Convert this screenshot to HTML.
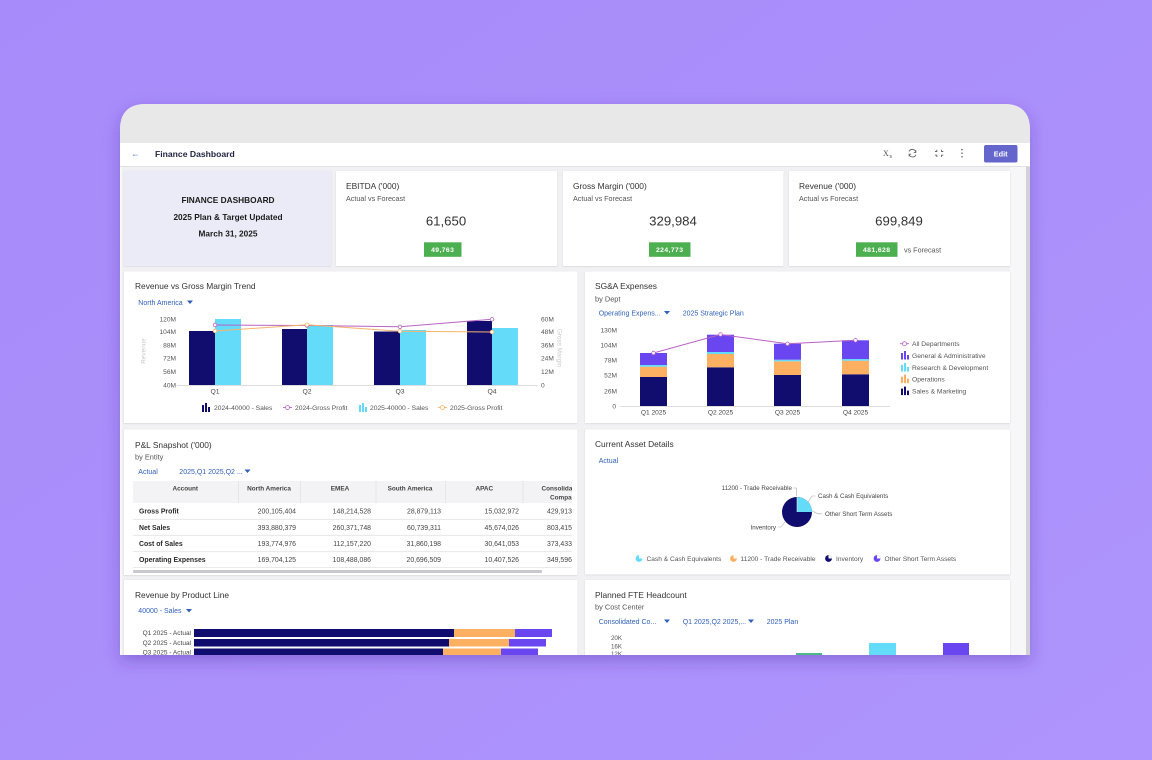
<!DOCTYPE html>
<html><head><meta charset="utf-8">
<style>
html,body{margin:0;padding:0;width:1152px;height:760px;overflow:hidden;background:#a98ffb;}
svg{display:block;font-family:"Liberation Sans",Arial,sans-serif;}
</style></head><body>
<svg width="1152" height="760" viewBox="0 0 1152 760" xmlns="http://www.w3.org/2000/svg">
<defs>
 <linearGradient id="bg" x1="0" y1="0" x2="1" y2="1">
  <stop offset="0" stop-color="#a78bfa"/><stop offset="1" stop-color="#ae94fc"/>
 </linearGradient>
 <clipPath id="frame"><path d="M120,130 Q120,104 146,104 L1004,104 Q1030,104 1030,130 L1030,655 L120,655 Z"/></clipPath>
 <clipPath id="tbl"><rect x="133" y="478" width="439" height="96"/></clipPath>
 <filter id="sh" x="-10%" y="-10%" width="120%" height="130%"><feDropShadow dx="0" dy="6" stdDeviation="8" flood-color="#4a2fa0" flood-opacity="0.35"/></filter>
 <filter id="cs" x="-5%" y="-5%" width="110%" height="110%"><feDropShadow dx="0" dy="0.5" stdDeviation="0.8" flood-color="#000" flood-opacity="0.13"/></filter>
</defs>
<rect width="1152" height="760" fill="url(#bg)"/>
<path d="M120,130 Q120,104 146,104 L1004,104 Q1030,104 1030,130 L1030,655 L120,655 Z" fill="#e8e8e8" filter="url(#sh)"/>
<g clip-path="url(#frame)">
 <rect x="120" y="104" width="910" height="39" fill="#e8e8e8"/>
 <!-- header -->
 <rect x="120" y="143" width="910" height="23" fill="#ffffff"/>
 <line x1="120" y1="166.5" x2="1030" y2="166.5" stroke="#e0e0e3" stroke-width="1"/>
 <text x="131" y="156.5" font-size="9" fill="#3d6fd0">←</text>
 <text x="155" y="156.8" font-size="8.6" font-weight="bold" fill="#1f2340">Finance Dashboard</text>
 <text x="883" y="156" font-size="8" fill="#555" font-family="Liberation Serif,serif">X</text>
 <text x="889.5" y="158" font-size="5" fill="#555">s</text>
 <g fill="none" stroke="#666" stroke-width="0.9">
  <path d="M909,151.5 A3.6,3.6 0 0 1 915.8,152.2"/>
  <path d="M915.9,154.8 A3.6,3.6 0 0 1 909.1,154.2"/>
  <path d="M915.8,150.2 L915.8,152.4 L913.7,152.4"/>
  <path d="M909.1,156.4 L909.1,154.2 L911.2,154.2"/>
  <path d="M935,151.5 L936.8,151.5 L936.8,149.7"/>
  <path d="M941.5,149.7 L941.5,151.5 L943.3,151.5"/>
  <path d="M935,155.2 L936.8,155.2 L936.8,157"/>
  <path d="M941.5,157 L941.5,155.2 L943.3,155.2"/>
 </g>
 <circle cx="962" cy="149.6" r="0.8" fill="#666"/><circle cx="962" cy="153.2" r="0.8" fill="#666"/><circle cx="962" cy="156.8" r="0.8" fill="#666"/>
 <rect x="984" y="145" width="33.5" height="17.5" rx="2" fill="#6466cc"/>
 <text x="1000.7" y="156.5" font-size="7.3" font-weight="bold" fill="#fff" text-anchor="middle">Edit</text>

 <!-- content bg -->
 <rect x="120" y="167" width="910" height="488" fill="#f1f1f4"/>
 <rect x="1010" y="167" width="16" height="488" fill="#f7f7f9"/>
 <rect x="1026" y="167" width="4" height="488" fill="#d2d2d6"/>
 <rect x="120" y="167" width="1.5" height="488" fill="#fafafa"/>

 <!-- Row 1 cards -->
 <rect x="124" y="171" width="207" height="95" fill="#ebebf8" filter="url(#cs)"/>
 <rect x="336" y="171" width="221" height="95" fill="#fff" filter="url(#cs)"/>
 <rect x="563" y="171" width="220.5" height="95" fill="#fff" filter="url(#cs)"/>
 <rect x="789" y="171" width="221" height="95" fill="#fff" filter="url(#cs)"/>
 <g font-weight="bold" font-size="8.3" fill="#1a1a1a" text-anchor="middle">
  <text x="228" y="203">FINANCE DASHBOARD</text>
  <text x="228" y="219.8">2025 Plan &amp; Target Updated</text>
  <text x="228" y="236.3">March 31, 2025</text>
 </g>
 <g font-size="8.4" fill="#333">
  <text x="346" y="189">EBITDA ('000)</text>
  <text x="573" y="189">Gross Margin ('000)</text>
  <text x="799" y="189">Revenue ('000)</text>
 </g>
 <g font-size="7.2" fill="#555">
  <text x="346" y="200.8">Actual vs Forecast</text>
  <text x="573" y="200.8">Actual vs Forecast</text>
  <text x="799" y="200.8">Actual vs Forecast</text>
  <text x="904" y="252.7">vs Forecast</text>
 </g>
 <g font-size="13.2" fill="#333" text-anchor="middle">
  <text x="446" y="225.7">61,650</text>
  <text x="673" y="225.7">329,984</text>
  <text x="899" y="225.7">699,849</text>
 </g>
 <rect x="424" y="242.3" width="37.5" height="14.5" fill="#4caf50"/>
 <rect x="649" y="242.3" width="41.5" height="14.5" fill="#4caf50"/>
 <rect x="856" y="242.3" width="41.5" height="14.5" fill="#4caf50"/>
 <g font-size="6.8" font-weight="bold" fill="#fff" text-anchor="middle" letter-spacing="0.4">
  <text x="442.7" y="252">49,763</text>
  <text x="669.7" y="252">224,773</text>
  <text x="876.7" y="252">481,628</text>
 </g>

 <!-- Row 2 -->
 <rect x="124" y="271.5" width="453.5" height="151.5" fill="#fff" filter="url(#cs)"/>
 <rect x="585" y="271.5" width="425" height="151.5" fill="#fff" filter="url(#cs)"/>
 <text x="135" y="289.2" font-size="8.4" fill="#333">Revenue vs Gross Margin Trend</text>
 <text x="138.3" y="304.8" font-size="7" fill="#2f5fb8">North America</text>
 <polygon points="187,300.5 193,300.5 190,304" fill="#2f5fb8"/>
 <!-- chart1 axes -->
 <g font-size="6.6" fill="#555" text-anchor="end">
  <text x="176" y="321.4">120M</text>
  <text x="176" y="333.9">104M</text>
  <text x="176" y="347.4">88M</text>
  <text x="176" y="360.4">72M</text>
  <text x="176" y="374.2">56M</text>
  <text x="176" y="387.6">40M</text>
 </g>
 <g font-size="6.6" fill="#555">
  <text x="541" y="321.4">60M</text>
  <text x="541" y="333.9">48M</text>
  <text x="541" y="347.4">36M</text>
  <text x="541" y="360.4">24M</text>
  <text x="541" y="374.2">12M</text>
  <text x="541" y="387.6">0</text>
 </g>
 <text transform="translate(145.5,351) rotate(-90)" font-size="6.4" fill="#c8c8c8" text-anchor="middle">Revenue</text>
 <text transform="translate(557.5,348) rotate(90)" font-size="6.4" fill="#c8c8c8" text-anchor="middle">Gross Margin</text>
 <line x1="177" y1="385.5" x2="538" y2="385.5" stroke="#d0d0d0" stroke-width="0.8"/>
 <g fill="#110d6e">
  <rect x="189" y="331" width="26" height="54"/>
  <rect x="282" y="329" width="25" height="56"/>
  <rect x="374" y="331.5" width="26" height="53.5"/>
  <rect x="467" y="321" width="25" height="64"/>
 </g>
 <g fill="#63dbf9">
  <rect x="215" y="319" width="26" height="66"/>
  <rect x="307" y="325" width="26" height="60"/>
  <rect x="400" y="330" width="26" height="55"/>
  <rect x="492" y="328" width="26" height="57"/>
 </g>
 <polyline points="215,325 307,325.5 400,326.8 492,319.3" fill="none" stroke="#b863c4" stroke-width="1"/>
 <polyline points="215,331 307,324.8 400,331.2 492,332" fill="none" stroke="#f8b46c" stroke-width="1"/>
 <g fill="#fff" stroke-width="0.8">
  <circle cx="215" cy="325" r="1.8" stroke="#b863c4"/><circle cx="307" cy="325.5" r="1.8" stroke="#b863c4"/>
  <circle cx="400" cy="326.8" r="1.8" stroke="#b863c4"/><circle cx="492" cy="319.3" r="1.8" stroke="#b863c4"/>
  <circle cx="215" cy="331" r="1.8" stroke="#f8b46c"/><circle cx="307" cy="324.8" r="1.8" stroke="#f8b46c"/>
  <circle cx="400" cy="331.2" r="1.8" stroke="#f8b46c"/><circle cx="492" cy="332" r="1.8" stroke="#f8b46c"/>
 </g>
 <g font-size="6.8" fill="#444" text-anchor="middle">
  <text x="215" y="393.6">Q1</text><text x="307" y="393.6">Q2</text>
  <text x="400" y="393.6">Q3</text><text x="492" y="393.6">Q4</text>
 </g>
 <!-- chart1 legend -->
 <g fill="#110d6e"><rect x="202" y="405" width="2" height="7"/><rect x="205" y="403" width="2" height="9"/><rect x="208" y="407" width="2" height="5"/></g>
 <g fill="#63dbf9"><rect x="359" y="405" width="2" height="7"/><rect x="362" y="403" width="2" height="9"/><rect x="365" y="407" width="2" height="5"/></g>
 <line x1="283" y1="407.5" x2="292" y2="407.5" stroke="#b863c4" stroke-width="0.9"/><circle cx="287.5" cy="407.5" r="2" fill="#fff" stroke="#b863c4" stroke-width="0.8"/>
 <line x1="438" y1="407.5" x2="447" y2="407.5" stroke="#f8b46c" stroke-width="0.9"/><circle cx="442.5" cy="407.5" r="2" fill="#fff" stroke="#f8b46c" stroke-width="0.8"/>
 <g font-size="6.7" fill="#555">
  <text x="214" y="409.9">2024-40000 - Sales</text>
  <text x="295" y="409.9">2024-Gross Profit</text>
  <text x="370" y="409.9">2025-40000 - Sales</text>
  <text x="450" y="409.9">2025-Gross Profit</text>
 </g>

 <!-- SG&A -->
 <text x="595" y="289.2" font-size="8.4" fill="#333">SG&amp;A Expenses</text>
 <text x="595" y="301.3" font-size="7.4" fill="#555">by Dept</text>
 <text x="598.7" y="315.3" font-size="7" fill="#2f5fb8">Operating Expens...</text>
 <polygon points="664,311 670,311 667,314.5" fill="#2f5fb8"/>
 <text x="682.7" y="315.3" font-size="7" fill="#2f5fb8">2025 Strategic Plan</text>
 <g font-size="6.6" fill="#555" text-anchor="end">
  <text x="617" y="332.4">130M</text>
  <text x="617" y="347.7">104M</text>
  <text x="617" y="362.6">78M</text>
  <text x="617" y="377.7">52M</text>
  <text x="617" y="393.4">26M</text>
  <text x="616" y="408.4">0</text>
 </g>
 <line x1="620" y1="406.5" x2="890" y2="406.5" stroke="#d0d0d0" stroke-width="0.8"/>
 <g>
  <rect x="640" y="377" width="27" height="29" fill="#110d6e"/>
  <rect x="640" y="366.7" width="27" height="10.3" fill="#fdb062"/>
  <rect x="640" y="365" width="27" height="1.7" fill="#63dbf9"/>
  <rect x="640" y="353" width="27" height="12" fill="#6a46f0"/>

  <rect x="707" y="367.3" width="27" height="38.7" fill="#110d6e"/>
  <rect x="707" y="354" width="27" height="13.3" fill="#fdb062"/>
  <rect x="707" y="352" width="27" height="2" fill="#63dbf9"/>
  <rect x="707" y="334.7" width="27" height="17.3" fill="#6a46f0"/>

  <rect x="774" y="375" width="27" height="31" fill="#110d6e"/>
  <rect x="774" y="361.3" width="27" height="13.7" fill="#fdb062"/>
  <rect x="774" y="359.7" width="27" height="1.6" fill="#63dbf9"/>
  <rect x="774" y="343.7" width="27" height="16" fill="#6a46f0"/>

  <rect x="842" y="374.3" width="27" height="31.7" fill="#110d6e"/>
  <rect x="842" y="360.7" width="27" height="13.6" fill="#fdb062"/>
  <rect x="842" y="359" width="27" height="1.7" fill="#63dbf9"/>
  <rect x="842" y="340.3" width="27" height="18.7" fill="#6a46f0"/>
 </g>
 <polyline points="653.5,353 720.5,334.5 787.5,343.8 855.5,340.3" fill="none" stroke="#b863c4" stroke-width="1"/>
 <g fill="#fff" stroke="#b863c4" stroke-width="0.8">
  <circle cx="653.5" cy="353" r="1.8"/><circle cx="720.5" cy="334.5" r="1.8"/>
  <circle cx="787.5" cy="343.8" r="1.8"/><circle cx="855.5" cy="340.3" r="1.8"/>
 </g>
 <g font-size="6.6" fill="#444" text-anchor="middle">
  <text x="653.5" y="414.4">Q1 2025</text><text x="720.5" y="414.4">Q2 2025</text>
  <text x="787.5" y="414.4">Q3 2025</text><text x="855.5" y="414.4">Q4 2025</text>
 </g>
 <line x1="900" y1="343.7" x2="909" y2="343.7" stroke="#b863c4" stroke-width="0.9"/><circle cx="904.5" cy="343.7" r="2" fill="#fff" stroke="#b863c4" stroke-width="0.8"/>
 <g fill="#6a46f0"><rect x="901" y="353" width="2" height="6.5"/><rect x="904" y="351" width="2" height="8.5"/><rect x="907" y="355" width="2" height="4.5"/></g>
 <g fill="#63dbf9"><rect x="901" y="365" width="2" height="6.5"/><rect x="904" y="363" width="2" height="8.5"/><rect x="907" y="367" width="2" height="4.5"/></g>
 <g fill="#fdb062"><rect x="901" y="376.6" width="2" height="6.5"/><rect x="904" y="374.6" width="2" height="8.5"/><rect x="907" y="378.6" width="2" height="4.5"/></g>
 <g fill="#110d6e"><rect x="901" y="388.6" width="2" height="6.5"/><rect x="904" y="386.6" width="2" height="8.5"/><rect x="907" y="390.6" width="2" height="4.5"/></g>
 <g font-size="6.7" fill="#555">
  <text x="912" y="346">All Departments</text>
  <text x="912" y="358">General &amp; Administrative</text>
  <text x="912" y="370">Research &amp; Development</text>
  <text x="912" y="381.6">Operations</text>
  <text x="912" y="393.6">Sales &amp; Marketing</text>
 </g>

 <!-- Row 3 -->
 <rect x="124" y="429.5" width="453.5" height="145.5" fill="#fff" filter="url(#cs)"/>
 <rect x="585" y="429.5" width="425" height="145" fill="#fff" filter="url(#cs)"/>
 <text x="135" y="447.8" font-size="8.4" fill="#333">P&amp;L Snapshot ('000)</text>
 <text x="135" y="459.5" font-size="7.4" fill="#555">by Entity</text>
 <text x="138.3" y="473.8" font-size="7" fill="#2f5fb8">Actual</text>
 <text x="179.3" y="473.8" font-size="7" fill="#2f5fb8">2025,Q1 2025,Q2 ...</text>
 <polygon points="244.5,469.5 250.5,469.5 247.5,473" fill="#2f5fb8"/>
 <g clip-path="url(#tbl)">
  <rect x="133" y="481" width="445" height="22" fill="#f3f3f5"/>
  <g stroke="#e3e3e6" stroke-width="0.8">
   <line x1="238.5" y1="481" x2="238.5" y2="503"/><line x1="300.5" y1="481" x2="300.5" y2="503"/>
   <line x1="376" y1="481" x2="376" y2="503"/><line x1="445.5" y1="481" x2="445.5" y2="503"/>
   <line x1="523" y1="481" x2="523" y2="503"/>
   <line x1="133" y1="519.3" x2="572" y2="519.3"/><line x1="133" y1="535.3" x2="572" y2="535.3"/>
   <line x1="133" y1="551.7" x2="572" y2="551.7"/><line x1="133" y1="567.5" x2="572" y2="567.5"/>
  </g>
  <g font-size="6.4" font-weight="bold" fill="#444" text-anchor="middle">
   <text x="185.3" y="490.4">Account</text>
   <text x="269" y="490.4">North America</text>
   <text x="340" y="490.4">EMEA</text>
   <text x="410" y="490.4">South America</text>
   <text x="484.3" y="490.4">APAC</text>
  </g>
  <g font-size="6.4" font-weight="bold" fill="#444">
   <text x="541.5" y="490.4">Consolidated</text>
   <text x="550" y="499.4">Company</text>
  </g>
  <g font-size="6.9" font-weight="bold" fill="#2a2a2a">
   <text x="139" y="513.5">Gross Profit</text>
   <text x="139" y="529.8">Net Sales</text>
   <text x="139" y="545.8">Cost of Sales</text>
   <text x="139" y="562.2">Operating Expenses</text>
  </g>
  <g font-size="6.9" fill="#444" text-anchor="end">
   <text x="296" y="513.5">200,105,404</text><text x="371" y="513.5">148,214,528</text><text x="441" y="513.5">28,879,113</text><text x="519" y="513.5">15,032,972</text>
   <text x="296" y="529.8">393,880,379</text><text x="371" y="529.8">260,371,748</text><text x="441" y="529.8">60,739,311</text><text x="519" y="529.8">45,674,026</text>
   <text x="296" y="545.8">193,774,976</text><text x="371" y="545.8">112,157,220</text><text x="441" y="545.8">31,860,198</text><text x="519" y="545.8">30,641,053</text>
   <text x="296" y="562.2">169,704,125</text><text x="371" y="562.2">108,488,086</text><text x="441" y="562.2">20,696,509</text><text x="519" y="562.2">10,407,526</text>
  </g>
  <g font-size="6.9" fill="#444">
   <text x="547" y="513.5">429,913,042</text>
   <text x="547" y="529.8">803,415,464</text>
   <text x="547" y="545.8">373,433,447</text>
   <text x="547" y="562.2">349,596,246</text>
  </g>
 </g>
 <rect x="133" y="570" width="409" height="3" rx="1" fill="#c9c9cd"/>

 <!-- Current Asset -->
 <text x="595" y="447.2" font-size="8.4" fill="#333">Current Asset Details</text>
 <text x="598.7" y="462.8" font-size="7" fill="#2f5fb8">Actual</text>
 <circle cx="797" cy="512" r="15" fill="#110d6e"/>
 <path d="M797,512 L797,497 A15,15 0 0 1 812,512 Z" fill="#63dbf9"/>
 <line x1="797" y1="497" x2="797" y2="512" stroke="#fff" stroke-width="0.5"/>
 <g fill="none" stroke="#aaa" stroke-width="0.6">
  <polyline points="793,488 796.5,488 796.5,496"/>
  <polyline points="808,502 812,496 815.5,496"/>
  <polyline points="812,511 818,513.8 822,513.8"/>
  <polyline points="785,522 781,527 778,527"/>
 </g>
 <g font-size="6.2" fill="#444">
  <text x="792" y="490.2" text-anchor="end">11200 - Trade Receivable</text>
  <text x="818" y="498.2">Cash &amp; Cash Equivalents</text>
  <text x="825" y="516">Other Short Term Assets</text>
  <text x="776" y="529.4" text-anchor="end">Inventory</text>
 </g>
 <g>
  <circle cx="639" cy="558.5" r="3.4" fill="#63dbf9"/><path d="M639,558.5 L639,555.1 A3.4,3.4 0 0 1 642.4,558.5 Z" fill="#fff"/>
  <circle cx="733.5" cy="558.5" r="3.4" fill="#fdb062"/><path d="M733.5,558.5 L733.5,555.1 A3.4,3.4 0 0 1 736.9,558.5 Z" fill="#fff"/>
  <circle cx="828.5" cy="558.5" r="3.4" fill="#110d6e"/><path d="M828.5,558.5 L828.5,555.1 A3.4,3.4 0 0 1 831.9,558.5 Z" fill="#fff"/>
  <circle cx="877" cy="558.5" r="3.4" fill="#6a46f0"/><path d="M877,558.5 L877,555.1 A3.4,3.4 0 0 1 880.4,558.5 Z" fill="#fff"/>
 </g>
 <g font-size="6.6" fill="#555">
  <text x="646.5" y="560.8">Cash &amp; Cash Equivalents</text>
  <text x="740.5" y="560.8">11200 - Trade Receivable</text>
  <text x="836" y="560.8">Inventory</text>
  <text x="884.5" y="560.8">Other Short Term Assets</text>
 </g>

 <!-- Row 4 -->
 <rect x="124" y="580" width="453.5" height="90" fill="#fff" filter="url(#cs)"/>
 <rect x="585" y="580" width="425" height="90" fill="#fff" filter="url(#cs)"/>
 <text x="135" y="598" font-size="8.4" fill="#333">Revenue by Product Line</text>
 <text x="138.3" y="613.2" font-size="7" fill="#2f5fb8">40000 - Sales</text>
 <polygon points="186,609 192,609 189,612.5" fill="#2f5fb8"/>
 <g font-size="6.5" fill="#444" text-anchor="end">
  <text x="191" y="635">Q1 2025 - Actual</text>
  <text x="191" y="645">Q2 2025 - Actual</text>
  <text x="191" y="654.6">Q3 2025 - Actual</text>
 </g>
 <rect x="194" y="629" width="260" height="8" fill="#110d6e"/><rect x="454" y="629" width="61" height="8" fill="#fdb062"/><rect x="515" y="629" width="37" height="8" fill="#6a46f0"/>
 <rect x="194" y="639" width="255" height="7.5" fill="#110d6e"/><rect x="449" y="639" width="60" height="7.5" fill="#fdb062"/><rect x="509" y="639" width="37" height="7.5" fill="#6a46f0"/>
 <rect x="194" y="648.5" width="249" height="8" fill="#110d6e"/><rect x="443" y="648.5" width="58" height="8" fill="#fdb062"/><rect x="501" y="648.5" width="37" height="8" fill="#6a46f0"/>

 <text x="595" y="598" font-size="8.4" fill="#333">Planned FTE Headcount</text>
 <text x="595" y="609.6" font-size="7.4" fill="#555">by Cost Center</text>
 <text x="598.7" y="623.8" font-size="7" fill="#2f5fb8">Consolidated Co...</text>
 <polygon points="664,619.5 670,619.5 667,623" fill="#2f5fb8"/>
 <text x="682.7" y="623.8" font-size="7" fill="#2f5fb8">Q1 2025,Q2 2025,...</text>
 <polygon points="748,619.5 754,619.5 751,623" fill="#2f5fb8"/>
 <text x="766.7" y="623.8" font-size="7" fill="#2f5fb8">2025 Plan</text>
 <g font-size="6.2" fill="#555" text-anchor="end">
  <text x="622" y="640.2">20K</text>
  <text x="622" y="648.5">16K</text>
  <text x="622" y="656">12K</text>
 </g>
 <rect x="796" y="653" width="26" height="10" fill="#4db886"/>
 <rect x="869" y="643" width="27" height="20" fill="#63dbf9"/>
 <rect x="943" y="643" width="26" height="20" fill="#6a46f0"/>
</g>
</svg>
</body></html>
